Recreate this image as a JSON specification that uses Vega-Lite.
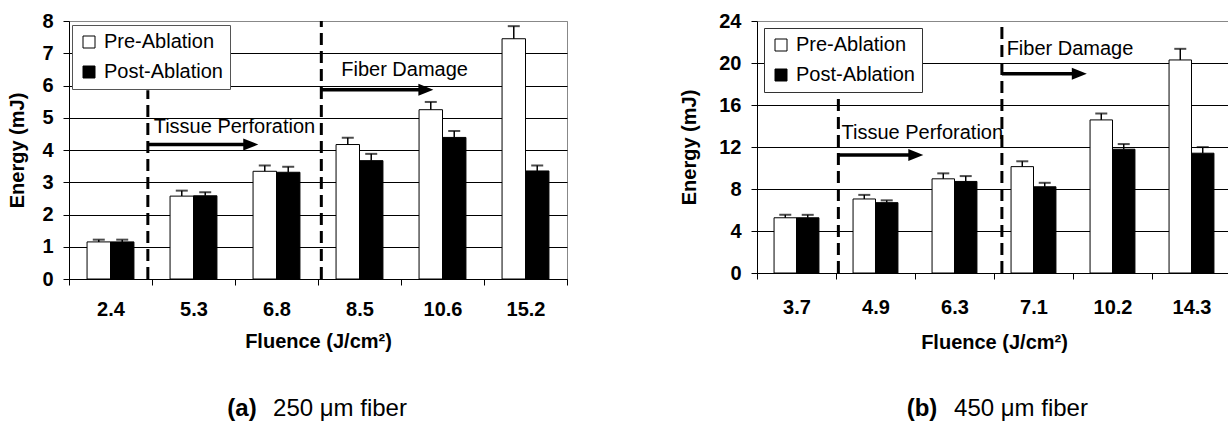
{
  "$schema": "https://vega.github.io/schema/vega-lite/v6.json",
  "padding": {"left": 7, "top": 10, "right": 0, "bottom": 0},
  "background": "white",
  "datasets": {
    "barsA": [
      {"fluence": "2.4", "phase": "Pre-Ablation", "energy": 1.15, "upper": 1.22},
      {"fluence": "2.4", "phase": "Post-Ablation", "energy": 1.15, "upper": 1.22},
      {"fluence": "5.3", "phase": "Pre-Ablation", "energy": 2.57, "upper": 2.74},
      {"fluence": "5.3", "phase": "Post-Ablation", "energy": 2.58, "upper": 2.69},
      {"fluence": "6.8", "phase": "Pre-Ablation", "energy": 3.34, "upper": 3.52},
      {"fluence": "6.8", "phase": "Post-Ablation", "energy": 3.31, "upper": 3.48},
      {"fluence": "8.5", "phase": "Pre-Ablation", "energy": 4.17, "upper": 4.38},
      {"fluence": "8.5", "phase": "Post-Ablation", "energy": 3.67, "upper": 3.88},
      {"fluence": "10.6", "phase": "Pre-Ablation", "energy": 5.25, "upper": 5.49},
      {"fluence": "10.6", "phase": "Post-Ablation", "energy": 4.39, "upper": 4.59},
      {"fluence": "15.2", "phase": "Pre-Ablation", "energy": 7.45, "upper": 7.84},
      {"fluence": "15.2", "phase": "Post-Ablation", "energy": 3.35, "upper": 3.52}
    ],
    "barsB": [
      {"fluence": "3.7", "phase": "Pre-Ablation", "energy": 5.26, "upper": 5.54},
      {"fluence": "3.7", "phase": "Post-Ablation", "energy": 5.26, "upper": 5.54},
      {"fluence": "4.9", "phase": "Pre-Ablation", "energy": 7.05, "upper": 7.44},
      {"fluence": "4.9", "phase": "Post-Ablation", "energy": 6.70, "upper": 6.92},
      {"fluence": "6.3", "phase": "Pre-Ablation", "energy": 8.97, "upper": 9.49},
      {"fluence": "6.3", "phase": "Post-Ablation", "energy": 8.72, "upper": 9.23},
      {"fluence": "7.1", "phase": "Pre-Ablation", "energy": 10.13, "upper": 10.64},
      {"fluence": "7.1", "phase": "Post-Ablation", "energy": 8.21, "upper": 8.59},
      {"fluence": "10.2", "phase": "Pre-Ablation", "energy": 14.58, "upper": 15.19},
      {"fluence": "10.2", "phase": "Post-Ablation", "energy": 11.79, "upper": 12.28},
      {"fluence": "14.3", "phase": "Pre-Ablation", "energy": 20.29, "upper": 21.35},
      {"fluence": "14.3", "phase": "Post-Ablation", "energy": 11.41, "upper": 11.99}
    ],
    "dashA": [{"x": 0.95, "y0": 0, "y1": 5.85}, {"x": 3.04, "y0": 0, "y1": 8}],
    "arrowA": [{"x": 0.95, "x2": 2.19, "y": 4.17}, {"x": 3.04, "x2": 4.30, "y": 5.87}],
    "noteA": [{"x": 1.02, "y": 4.71, "label": "Tissue Perforation"}, {"x": 3.28, "y": 6.47, "label": "Fiber Damage"}],
    "dashB": [{"x": 1.03, "y0": 0, "y1": 17.05}, {"x": 3.10, "y0": 0, "y1": 24}],
    "arrowB": [{"x": 1.03, "x2": 2.01, "y": 11.24}, {"x": 3.10, "x2": 4.08, "y": 18.98}],
    "noteB": [{"x": 1.07, "y": 13.36, "label": "Tissue Perforation"}, {"x": 3.16, "y": 21.3, "label": "Fiber Damage"}],
    "capA": [{"tag": "(a)", "text": "250 μm fiber", "y": -4.03}],
    "capB": [{"tag": "(b)", "text": "450 μm fiber", "y": -12.95}]
  },
  "hconcat": [
    {
      "width": 498,
      "height": 258,
      "view": {"stroke": "#888888"},
      "layer": [
        {
          "data": {"name": "barsA"},
          "encoding": {
            "x": {"field": "fluence", "type": "nominal", "sort": null,
                  "scale": {"paddingInner": 0, "paddingOuter": 0},
                  "axis": {"title": "Fluence (J/cm²)", "labelAngle": 0, "tickBand": "extent", "labelPadding": 14, "titlePadding": 12, "grid": false}},
            "xOffset": {"field": "phase", "type": "nominal", "sort": ["Pre-Ablation", "Post-Ablation"],
                        "scale": {"paddingInner": 0, "paddingOuter": 0.77}}
          },
          "layer": [
            {
              "mark": {"type": "bar", "stroke": "black", "strokeWidth": 1},
              "encoding": {
                "y": {"field": "energy", "type": "quantitative", "scale": {"domain": [0, 8], "nice": false},
                      "axis": {"title": "Energy (mJ)", "values": [0, 1, 2, 3, 4, 5, 6, 7, 8], "grid": true, "labelOverlap": false, "gridColor": {"condition": {"test": "datum.value >= 8", "value": "#888888"}, "value": "black"}, "labelPadding": 10, "titlePadding": 14}},
                "fill": {"field": "phase", "type": "nominal",
                         "scale": {"domain": ["Pre-Ablation", "Post-Ablation"], "range": ["white", "black"]},
                         "legend": {"orient": "none", "legendX": 3, "legendY": 4, "title": null,
                                    "fillColor": "white", "strokeColor": "#555555", "padding": 7,
                                    "rowPadding": 10, "labelOffset": 5, "labelFontSize": 20,
                                    "labelFont": "Liberation Sans", "labelColor": "black",
                                    "symbolType": "square", "symbolSize": 144,
                                    "symbolStrokeColor": "black", "symbolStrokeWidth": 1, "symbolOpacity": 1}}
              }
            },
            {
              "mark": {"type": "rule", "color": "black", "strokeWidth": 1.5},
              "encoding": {
                "y": {"field": "energy", "type": "quantitative", "scale": {"domain": [0, 8], "nice": false},
                      "axis": {"title": "Energy (mJ)", "values": [0, 1, 2, 3, 4, 5, 6, 7, 8], "grid": true, "labelOverlap": false, "gridColor": {"condition": {"test": "datum.value >= 8", "value": "#888888"}, "value": "black"}, "labelPadding": 10, "titlePadding": 14}},
                "y2": {"field": "upper"}
              }
            },
            {
              "mark": {"type": "tick", "color": "black", "size": 12, "thickness": 2, "orient": "horizontal"},
              "encoding": {
                "y": {"field": "upper", "type": "quantitative", "scale": {"domain": [0, 8], "nice": false},
                      "axis": {"title": "Energy (mJ)", "values": [0, 1, 2, 3, 4, 5, 6, 7, 8], "grid": true, "labelOverlap": false, "gridColor": {"condition": {"test": "datum.value >= 8", "value": "#888888"}, "value": "black"}, "labelPadding": 10, "titlePadding": 14}}
              }
            }
          ]
        },
        {
          "data": {"name": "dashA"},
          "mark": {"type": "rule", "color": "black", "strokeWidth": 3, "strokeDash": [12, 6]},
          "encoding": {
            "x": {"field": "x", "type": "quantitative", "scale": {"domain": [0, 6], "nice": false}, "axis": null},
            "y": {"field": "y0", "type": "quantitative", "scale": {"domain": [0, 8], "nice": false},
                  "axis": {"title": "Energy (mJ)", "values": [0, 1, 2, 3, 4, 5, 6, 7, 8], "grid": true, "labelOverlap": false, "gridColor": {"condition": {"test": "datum.value >= 8", "value": "#888888"}, "value": "black"}, "labelPadding": 10, "titlePadding": 14}},
            "y2": {"field": "y1"}
          }
        },
        {
          "data": {"name": "arrowA"},
          "layer": [
            {
              "mark": {"type": "rule", "color": "black", "strokeWidth": 3.5},
              "encoding": {
                "x": {"field": "x", "type": "quantitative", "scale": {"domain": [0, 6], "nice": false}, "axis": null},
                "x2": {"field": "x2"},
                "y": {"field": "y", "type": "quantitative", "scale": {"domain": [0, 8], "nice": false},
                      "axis": {"title": "Energy (mJ)", "values": [0, 1, 2, 3, 4, 5, 6, 7, 8], "grid": true, "labelOverlap": false, "gridColor": {"condition": {"test": "datum.value >= 8", "value": "#888888"}, "value": "black"}, "labelPadding": 10, "titlePadding": 14}}
              }
            },
            {
              "mark": {"type": "point", "shape": "M-1,-0.8L1,0L-1,0.8Z", "size": 225, "filled": true, "color": "black", "opacity": 1},
              "encoding": {
                "x": {"field": "x2", "type": "quantitative", "scale": {"domain": [0, 6], "nice": false}, "axis": null},
                "y": {"field": "y", "type": "quantitative", "scale": {"domain": [0, 8], "nice": false},
                      "axis": {"title": "Energy (mJ)", "values": [0, 1, 2, 3, 4, 5, 6, 7, 8], "grid": true, "labelOverlap": false, "gridColor": {"condition": {"test": "datum.value >= 8", "value": "#888888"}, "value": "black"}, "labelPadding": 10, "titlePadding": 14}}
              }
            }
          ]
        },
        {
          "data": {"name": "noteA"},
          "mark": {"type": "text", "align": "left", "baseline": "middle", "fontSize": 20, "font": "Liberation Sans", "color": "black"},
          "encoding": {
            "x": {"field": "x", "type": "quantitative", "scale": {"domain": [0, 6], "nice": false}, "axis": null},
            "y": {"field": "y", "type": "quantitative", "scale": {"domain": [0, 8], "nice": false},
                  "axis": {"title": "Energy (mJ)", "values": [0, 1, 2, 3, 4, 5, 6, 7, 8], "grid": true, "labelOverlap": false, "gridColor": {"condition": {"test": "datum.value >= 8", "value": "#888888"}, "value": "black"}, "labelPadding": 10, "titlePadding": 14}},
            "text": {"field": "label"}
          }
        },
        {
          "data": {"name": "capA"},
          "encoding": {
            "y": {"field": "y", "type": "quantitative", "scale": {"domain": [0, 8], "nice": false},
                  "axis": {"title": "Energy (mJ)", "values": [0, 1, 2, 3, 4, 5, 6, 7, 8], "grid": true, "labelOverlap": false, "gridColor": {"condition": {"test": "datum.value >= 8", "value": "#888888"}, "value": "black"}, "labelPadding": 10, "titlePadding": 14}}
          },
          "layer": [
            {
              "mark": {"type": "text", "align": "center", "baseline": "middle", "fontSize": 24, "fontWeight": "bold", "font": "Liberation Sans", "color": "black", "dx": -76},
              "encoding": {"text": {"field": "tag"}}
            },
            {
              "mark": {"type": "text", "align": "center", "baseline": "middle", "fontSize": 24, "font": "Liberation Sans", "color": "black", "dx": 22},
              "encoding": {"text": {"field": "text"}}
            }
          ]
        }
      ],
      "resolve": {"scale": {"x": "independent"}, "axis": {"x": "independent"}}
    },
    {
      "width": 474,
      "height": 252,
      "view": {"stroke": null},
      "layer": [
        {
          "data": {"name": "barsB"},
          "encoding": {
            "x": {"field": "fluence", "type": "nominal", "sort": null,
                  "scale": {"paddingInner": 0, "paddingOuter": 0},
                  "axis": {"title": "Fluence (J/cm²)", "labelAngle": 0, "tickBand": "extent", "labelPadding": 18, "titlePadding": 15, "grid": false}},
            "xOffset": {"field": "phase", "type": "nominal", "sort": ["Pre-Ablation", "Post-Ablation"],
                        "scale": {"paddingInner": 0, "paddingOuter": 0.76}}
          },
          "layer": [
            {
              "mark": {"type": "bar", "stroke": "black", "strokeWidth": 1},
              "encoding": {
                "y": {"field": "energy", "type": "quantitative", "scale": {"domain": [0, 24], "nice": false},
                      "axis": {"title": "Energy (mJ)", "values": [0, 4, 8, 12, 16, 20, 24], "grid": true, "labelOverlap": false, "gridColor": {"condition": {"test": "datum.value >= 24", "value": "#888888"}, "value": "black"}, "labelPadding": 10, "titlePadding": 19}},
                "fill": {"field": "phase", "type": "nominal",
                         "scale": {"domain": ["Pre-Ablation", "Post-Ablation"], "range": ["white", "black"]},
                         "legend": {"orient": "none", "legendX": 7, "legendY": 7, "title": null,
                                    "fillColor": "white", "strokeColor": "#333333", "padding": 7,
                                    "rowPadding": 10, "labelOffset": 5, "labelFontSize": 20,
                                    "labelFont": "Liberation Sans", "labelColor": "black",
                                    "symbolType": "square", "symbolSize": 144,
                                    "symbolStrokeColor": "black", "symbolStrokeWidth": 1, "symbolOpacity": 1}}
              }
            },
            {
              "mark": {"type": "rule", "color": "black", "strokeWidth": 1.5},
              "encoding": {
                "y": {"field": "energy", "type": "quantitative", "scale": {"domain": [0, 24], "nice": false},
                      "axis": {"title": "Energy (mJ)", "values": [0, 4, 8, 12, 16, 20, 24], "grid": true, "labelOverlap": false, "gridColor": {"condition": {"test": "datum.value >= 24", "value": "#888888"}, "value": "black"}, "labelPadding": 10, "titlePadding": 19}},
                "y2": {"field": "upper"}
              }
            },
            {
              "mark": {"type": "tick", "color": "black", "size": 12, "thickness": 2, "orient": "horizontal"},
              "encoding": {
                "y": {"field": "upper", "type": "quantitative", "scale": {"domain": [0, 24], "nice": false},
                      "axis": {"title": "Energy (mJ)", "values": [0, 4, 8, 12, 16, 20, 24], "grid": true, "labelOverlap": false, "gridColor": {"condition": {"test": "datum.value >= 24", "value": "#888888"}, "value": "black"}, "labelPadding": 10, "titlePadding": 19}}
              }
            }
          ]
        },
        {
          "data": {"name": "dashB"},
          "mark": {"type": "rule", "color": "black", "strokeWidth": 3, "strokeDash": [12, 6]},
          "encoding": {
            "x": {"field": "x", "type": "quantitative", "scale": {"domain": [0, 6], "nice": false}, "axis": null},
            "y": {"field": "y0", "type": "quantitative", "scale": {"domain": [0, 24], "nice": false},
                  "axis": {"title": "Energy (mJ)", "values": [0, 4, 8, 12, 16, 20, 24], "grid": true, "labelOverlap": false, "gridColor": {"condition": {"test": "datum.value >= 24", "value": "#888888"}, "value": "black"}, "labelPadding": 10, "titlePadding": 19}},
            "y2": {"field": "y1"}
          }
        },
        {
          "data": {"name": "arrowB"},
          "layer": [
            {
              "mark": {"type": "rule", "color": "black", "strokeWidth": 3.5},
              "encoding": {
                "x": {"field": "x", "type": "quantitative", "scale": {"domain": [0, 6], "nice": false}, "axis": null},
                "x2": {"field": "x2"},
                "y": {"field": "y", "type": "quantitative", "scale": {"domain": [0, 24], "nice": false},
                      "axis": {"title": "Energy (mJ)", "values": [0, 4, 8, 12, 16, 20, 24], "grid": true, "labelOverlap": false, "gridColor": {"condition": {"test": "datum.value >= 24", "value": "#888888"}, "value": "black"}, "labelPadding": 10, "titlePadding": 19}}
              }
            },
            {
              "mark": {"type": "point", "shape": "M-1,-0.8L1,0L-1,0.8Z", "size": 225, "filled": true, "color": "black", "opacity": 1},
              "encoding": {
                "x": {"field": "x2", "type": "quantitative", "scale": {"domain": [0, 6], "nice": false}, "axis": null},
                "y": {"field": "y", "type": "quantitative", "scale": {"domain": [0, 24], "nice": false},
                      "axis": {"title": "Energy (mJ)", "values": [0, 4, 8, 12, 16, 20, 24], "grid": true, "labelOverlap": false, "gridColor": {"condition": {"test": "datum.value >= 24", "value": "#888888"}, "value": "black"}, "labelPadding": 10, "titlePadding": 19}}
              }
            }
          ]
        },
        {
          "data": {"name": "noteB"},
          "mark": {"type": "text", "align": "left", "baseline": "middle", "fontSize": 20, "font": "Liberation Sans", "color": "black"},
          "encoding": {
            "x": {"field": "x", "type": "quantitative", "scale": {"domain": [0, 6], "nice": false}, "axis": null},
            "y": {"field": "y", "type": "quantitative", "scale": {"domain": [0, 24], "nice": false},
                  "axis": {"title": "Energy (mJ)", "values": [0, 4, 8, 12, 16, 20, 24], "grid": true, "labelOverlap": false, "gridColor": {"condition": {"test": "datum.value >= 24", "value": "#888888"}, "value": "black"}, "labelPadding": 10, "titlePadding": 19}},
            "text": {"field": "label"}
          }
        },
        {
          "data": {"name": "capB"},
          "encoding": {
            "y": {"field": "y", "type": "quantitative", "scale": {"domain": [0, 24], "nice": false},
                  "axis": {"title": "Energy (mJ)", "values": [0, 4, 8, 12, 16, 20, 24], "grid": true, "labelOverlap": false, "gridColor": {"condition": {"test": "datum.value >= 24", "value": "#888888"}, "value": "black"}, "labelPadding": 10, "titlePadding": 19}}
          },
          "layer": [
            {
              "mark": {"type": "text", "align": "center", "baseline": "middle", "fontSize": 24, "fontWeight": "bold", "font": "Liberation Sans", "color": "black", "dx": -72},
              "encoding": {"text": {"field": "tag"}}
            },
            {
              "mark": {"type": "text", "align": "center", "baseline": "middle", "fontSize": 24, "font": "Liberation Sans", "color": "black", "dx": 27},
              "encoding": {"text": {"field": "text"}}
            }
          ]
        }
      ],
      "resolve": {"scale": {"x": "independent"}, "axis": {"x": "independent"}}
    }
  ],
  "spacing": 111,
  "resolve": {"scale": {"fill": "independent", "xOffset": "independent"}, "legend": {"fill": "independent"}},
  "config": {
    "font": "Liberation Sans",
    "axis": {
      "labelFont": "Liberation Sans", "labelFontWeight": "bold", "labelFontSize": 20, "labelColor": "black",
      "titleFont": "Liberation Sans", "titleFontWeight": "bold", "titleFontSize": 20, "titleColor": "black",
      "domainColor": "black", "domainWidth": 1, "tickColor": "black", "tickSize": 6, "tickWidth": 1,
      "gridOpacity": 1, "gridWidth": 1
    }
  }
}
